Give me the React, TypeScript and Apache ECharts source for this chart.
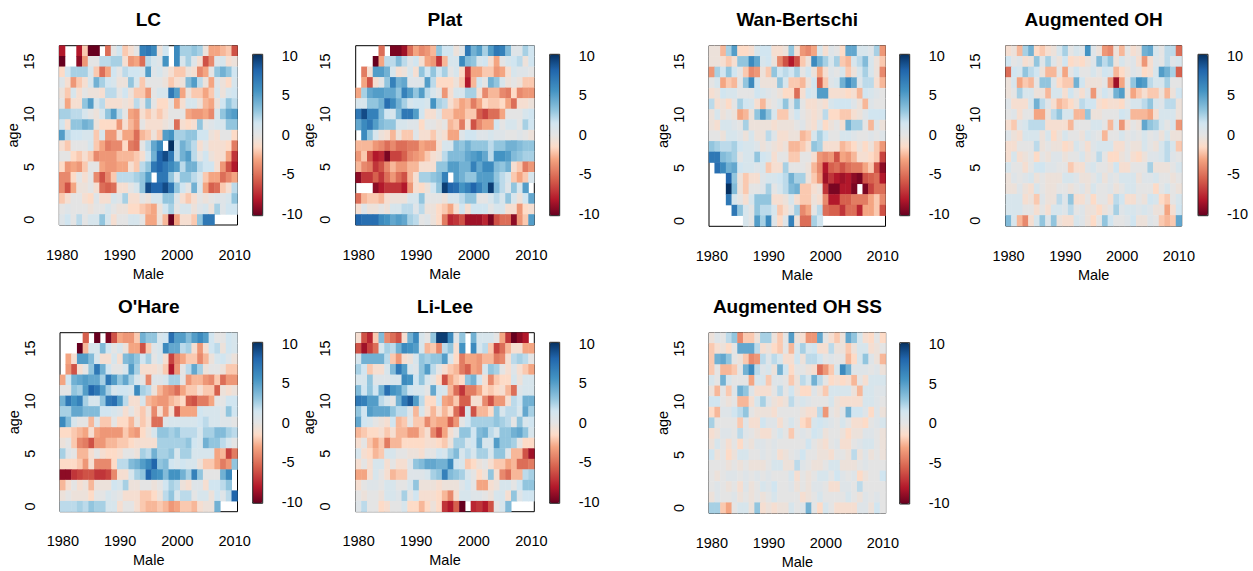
import React, { useEffect, useRef } from "react";
import * as echarts from "echarts";

const n = null;
const years = Array.from({ length: 31 }, (_, i) => String(1980 + i));
const ages = Array.from({ length: 17 }, (_, i) => String(i));
const barTicks = [-10, -5, 0, 5, 10];
const colorLevels = [-10, -8, -5.5, -3, -1.5, 0, 1.5, 3, 5.5, 8, 10];
const colorStops = ["#67001F", "#B2182B", "#D6604D", "#F4A582", "#FDDBC7", "#E4E4E4", "#D1E5F0", "#92C5DE", "#4393C3", "#2166AC", "#053061"];

// Each table lists ages 16 down to 0, columns 1980..2010.
const lcValues = [
[-8,n,n,-8,-2,-10,-10,n,-5,0,1.5,-2,-1,0,6.5,7,6,-0.5,1.5,n,6,2.5,2.5,3,2.5,-0.5,-3,-3,-2.5,-2,-6],
[-10,n,n,-9,-3.5,0,0,2,2,2.5,2.5,-1,-3.5,-3,-5,2,1,0.5,5.5,n,6,1,2.5,0.5,-1,-6,-4,0.5,1,-1,-0.5],
[-1.5,1.5,2.5,2.5,2.5,1,-2,-5,-3,1.5,0,2,1.5,1.5,1,5,0.5,1,0,-1,-2,-2,-0.5,-1,-4,-3,0,3,4,3,1.5],
[0.5,-1,-3.5,-2,-1,1,4,2.5,1.5,1,-0.5,-0.5,3,1,-2,0,0,0,-0.5,-2,-1,-0.5,3.5,5,2,-0.5,-3,0.5,-0.5,-1.5,1],
[-0.5,-2,1,-1,0,-0.5,-0.5,-1,2,2,0,1.5,-0.5,-2,-2,-3.5,0,1,1,7,5,-3,-0.5,-2,-2,-3,-2,1,-0.5,1,1.5],
[0,-3,-1,-1,3,5,1,2,-1,-1,-1,-0.5,-1,2,0,3,0,-1.5,-1.5,0,-3,-1,1,1,-0.5,-2.5,-3,-0.5,1.5,3,2],
[2.5,2.5,2,2,1,0,-0.5,1,3,5,2,0,-3,-3.5,-1,-2,-1,-2,-1,0,0,0,-3,-3.5,-3.5,-3,-4,1,3,4.5,5],
[1.5,-1,3,3,4,3.5,-0.5,-1.5,-1.5,-1.5,-3.5,-1,-2.5,-3.5,0,-1,-1,-1,-0.5,0,-5,-1,-1.5,-1,3,0,0.5,1,1,3,3],
[5,2,1.5,1.5,1,1,-2,1,-3.5,-3.5,-1,-3,-3,-5,-2.5,-2,-0.5,-2,5,5.5,2.5,2.5,3,3,1.5,1.5,-0.5,-1,0,0,-1.5],
[-1,-2,0,0,0,1,-2,-3,-4.5,-4,-4,-1.5,-4.5,-5,0,2,4.5,6,n,10,2,4,3,2,-1,0,-1,-1,-1,-1.5,-4.5],
[0,0,-1.5,-2,-1,-2,-4,-3.5,-3.5,-3.5,-2.5,-2.5,-2.5,-2,-1,1.5,4,8,9,7,2,4,5,2,0,1.5,-0.5,-1,-1,-3,-7],
[-1.5,-3.5,-3,-3.5,-2,0,0,-3,-3.5,-3.5,-3,-3,-1,-2,2,3,7,8,7,6,5,2,4,4,2,1.5,1.5,-1,-3.5,-6,-8],
[-4,-4,-1.5,0,-1,0,-4,-6,-4,-2,2,2,2,2.5,3,5,n,7,7,3,1,3,3,2,1,-2,-3,-3,-5,-4,-3],
[-4,-6,-3,-0.5,-0.5,0,-1,-5,-5.5,-5,-1,-1,0,1,3,9,8,8,9,7,3,1.5,0,4,1,-3,-5.5,-5,-2,-1,2],
[-2,-1,0,0,-1,-1.5,0.5,-1,-1,1,0.5,2.5,-1,-1,0,-0.5,1,1,3,3,0.5,-1,-2,-1,0,-0.5,0,0.5,0.5,1,3],
[0,0.5,0,0,0,-0.5,0,0,1,0,-0.5,-0.5,-1.5,-1.5,-2,-2.5,-3,-0.5,1.5,2.5,0,1,1,-0.5,0.5,1,-0.5,2.5,0.5,1.5,1.5],
[0.5,1.5,0,2,0,1,1,3,1,-1,0,0,1,1,0,-3,-3,-0.5,-2.5,-10,-3,-1,-1,-2,3,7,7,n,n,n,n],
];

const platValues = [
[n,n,n,n,-5,n,-9.5,-9.5,-8.5,-5,-3,-4,-3.5,-2.5,3,1.5,1.5,-0.5,0.5,7,4,5,2.5,5,7,6.5,3.5,0.5,0.5,2.5,1.5],
[n,n,n,-10,-3,2,2,3.5,2,0.5,1.5,-1,-3,-3.5,-7,-2.5,1,1,6,3.5,3,1,1.5,-1,-3,0,1,1.5,2,-0.5,1.5],
[n,-4.5,-1,5,5,4,1,-1,-0.5,1,-1,3,1.5,3,1.5,2.5,0,1,-1.5,-7,-3,-3,-2,-2,-3.5,-3,-1,1,0.5,0.5,0],
[n,-3,-6,-1,0,3,6.5,4,4.5,0.5,0.5,0.5,5,2,-1.5,-1.5,-1.5,-0.5,-2,-8,-2.5,1.5,0,4,3,1,-0.5,0,-0.5,-2,-2],
[-3,2.5,4.5,5,5,4.5,4.5,3,6.5,5,3,5,2,1,0,-3.5,-1,1,1,2.5,2.5,-1,-4,-2.5,-2.5,-4,-4.5,-1.5,-4,-3.5,-3.5],
[1,1,3,3,4,7.5,6,4,2.5,1,1.5,1.5,1,5.5,2.5,2,-1,-2,-3,-2.5,-4.5,-3,-1.5,-2,-2,-1.5,-3,-5,-1,-1,-0.5],
[7,9,6.5,6.5,3.5,1.5,1,3.5,7,7,5,1.5,-1,-1,0.5,-2,-2,-3,-3,-2,-2,-5.5,-6.5,-5,-5,-3,0,0,0,1,1.5],
[4.5,6,7,5,3.5,3,3,1,1,0.5,0.5,-1.5,0,0,-0.5,0,-2.5,-2,-4.5,-1,-6,-4,-3,-3,1.5,0,1,1,0,2.5,1.5],
[n,6,3,1,-0.5,-1,-2.5,-0.5,-2,-2,0.5,-1,-1,-2,-0.5,-1,-3,-3,0.5,1.5,1.5,0.5,0.5,1,0.5,0.5,0,0,0.5,0,-0.5],
[-2.5,-2.5,-2.5,-3.5,-4,-5,-4,-5,-5,-4.5,-4.5,-3,-3.5,-3.5,-1,1,1,3.5,3,4,3,3,3,2,3,3,4,4,3.5,3,3],
[-3.5,-2,-6,-8,-7.5,-9.5,-6.5,-6.5,-5.5,-4,-3.5,-3,-2,-1,-0.5,2,3.5,3.5,3.5,4.5,5,5.5,4.5,2,5.5,5.5,5,3.5,3,2.5,2.5],
[-2.5,-4,-4.5,-7,-6,-4,-2.5,-3.5,-3.5,-2.5,-2.5,-1,-1,-1,3,3,5,5,4,4,6.5,4.5,6,6,3.5,3,4,-1,-2,-4.5,-3.5],
[-9,-7,-7,-5.5,-7,-5,-3.5,-5,-6,-2.5,-1,2.5,2.5,3,3.5,6.5,n,5,4,3,3,5,5,5,3,2,1,-2,-3,-2,1],
[n,n,n,-9,-8,-7,-7,-7,-8,-3.5,-1,-1.5,-0.5,1.5,3,9.5,8,7.5,5.5,6.5,8,6.5,5,9.5,3.5,2,0.5,3,1,5,n],
[-5,-2.5,-2,-2,-2.5,-1,-0.5,-0.5,-0.5,1,1,3,0,0,0,-0.5,1,1,2,3,3,0,0,1,2,1,3,1,-0.5,1.5,4.5],
[-1,0.5,-0.5,-0.5,0,-0.5,1,1,2,2,0.5,2,-0.5,-0.5,-1.5,-2,-3,-1,1.5,-1,1.5,1.5,1.5,0,1,1,-1,-1,-3.5,-1.5,-1],
[8,7.5,7.5,7.5,6,5.5,4.5,5,4.5,2.5,2,0,0.5,-0.5,-1.5,-4.5,-7.5,-7,-6,-8.5,-8.5,-8.5,-7.5,-9.5,-6,-5,-5,-9,-3.5,-2,5],
];

const wanBertschiValues = [
[-0.5,-0.5,-2.5,2.5,5,-1.5,-1.5,-1,1,1.5,1.5,-1,-1,-0.5,3,-1,-3.5,-4,-3,1,-1,0.5,0,-1.5,4.5,4.5,1,1,0.5,2.5,-3.5],
[-0.5,-0.5,-1,-2,-1,3,3,6,4.5,1,1.5,-0.5,-4,-6,-8,-6,-2,-0.5,6,4,2.5,1,2.5,-2,-2.5,1,2,3.5,1,-0.5,-2],
[-3.5,2.5,1.5,3,1.5,0,-2,-4,-3.5,-0.5,-2,3,1.5,2,1.5,2.5,0,1.5,-0.5,-3,-1,0.5,0,1,-2,-0.5,1,2.5,1,-0.5,-4],
[0,1,-3,-2,-2.5,0,3,6,1.5,-0.5,-0.5,-0.5,3,1,-2,-2,-2.5,-0.5,1.5,-5.5,-2,0.5,1,4,6,4.5,0.5,2,2,-1,-2.5],
[-1,-0.5,1.5,1,1,0,0,0,1.5,1,0.5,0,-0.5,-1.5,-1.5,-5,-1,1.5,1,5,5,-1,-1,-1,-1.5,-1,-2.5,1.5,1,0.5,0],
[2,-1,-0.5,-1.5,0,2.5,1.5,1,-1,-2.5,-0.5,0,1,3,0.5,3,0,-1,-1,-0.5,-1,1,1.5,1.5,1.5,0.5,-0.5,-2.5,0.5,0,0],
[-0.5,1,-0.5,0,-0.5,-3,-2.5,-0.5,3,5,3,1,-2,-2,0,1.5,0,-0.5,-1,-0.5,2,-1.5,-1.5,-2,-2,-1,-0.5,0.5,1.5,1.5,1.5],
[-0.5,-1,1,1,0.5,0,2.5,-0.5,-0.5,-0.5,-0.5,-1,-0.5,-0.5,-0.5,0,0.5,-0.5,-1,0.5,-1.5,-0.5,0,-1,4,2.5,2.5,0,-2.5,0.5,-0.5],
[0,0,-0.5,1,1,0.5,-0.5,1,-0.5,-0.5,2,0.5,-1,-1,-0.5,-0.5,-2.5,-2,1,2.5,1.5,0,0,1,1,0.5,0,0,0.5,0,0.5],
[3,2.5,2,2,2.5,1.5,1,1,0.5,-0.5,0,-0.5,-1,-0.5,-2.5,-2.5,-2,-1,3,2.5,-1,-1,-1,-2.5,-2,-1.5,-0.5,-1.5,-0.5,-2,-3.5],
[7,7,3.5,3,2.5,0,1,1,3,1.5,1,-1,0,0,-2,-2,0,0,-1,-3.5,-4,-3.5,-6,-3,-3.5,-2.5,-1,-1,-1.5,-2,-6.5],
[n,7.5,6,4,4.5,1.5,1,1,0.5,1,-2,-1,-1,2.5,0,0,0,-0.5,-2.5,-4,-8,-5.5,-5,-6,-5,-4.5,-4.5,-3,-2,-6,-9],
[n,n,n,8,3,-0.5,-2,-1,-1,0.5,1,1,1.5,2,4,2.5,2.5,-0.5,-2,-3.5,-8.5,-7,-8,-8.5,-8,-9,-9.5,-6,-5.5,-5,-8],
[n,n,n,10,3.5,-0.5,-2,0,0,0.5,2.5,0,1,2,3.5,4,-2,-2,-1,-0.5,-7,-9.5,-9.5,-8,-8,-9.5,n,-9.5,-6.5,-5,-5],
[n,n,n,7,1,0,-1,1,3,3,3,-1,-1,-0.5,1,-1,-2,-2,-0.5,-1,-4,-8,-8,-5.5,-5.5,-4.5,-4.5,-4.5,-3,-2,-4],
[n,n,n,n,7,3,1,0,3,2,2,1,-2,-1,0,2.5,-4,-3,0,2,-5,-5.5,-5.5,-7,-5,-5,-7.5,-3,-3,-2,-6],
[n,n,n,n,n,n,1,0,5,2.5,6,0.5,-1.5,0.5,6.5,-0.5,-5,-5,2.5,1.5,n,n,n,n,n,n,n,n,n,n,n],
];

const augmentedOhValues = [
[-1,-0.5,-2.5,2.5,4,-1.5,-2,-1,-0.5,1,2.5,0,1,0.5,5.5,0.5,-0.5,-3.5,-4,-0.5,-2.5,0,-1,-0.5,4,4.5,1,0,2,2,-5],
[1.5,0,0.5,-1,-0.5,3,0.5,2.5,0.5,-0.5,1.5,-1.5,-1,-1.5,-0.5,0.5,3.5,2,3,-0.5,1,0,0.5,-1,-3.5,-1,0.5,0,2,0.5,1],
[-5,1.5,1,3,2,1.5,-0.5,-2.5,-2.5,0,-3,0,1.5,0,0,1,0,1.5,1,-2.5,-1.5,-0.5,0.5,0,-1.5,-1,1,5,4,2.5,-5.5],
[-0.5,1,-3,-2,-2.5,0,3,3,0.5,-1.5,-2,-2,4,1.5,-0.5,-0.5,-0.5,0,-3.5,-8.5,-3,0,3,5.5,5,2,1,1,2.5,0,0],
[-0.5,0,2.5,1,1,-0.5,-0.5,-2.5,1,1,-1,1.5,0,-1,0.5,-3.5,0,1.5,0.5,4,5,-0.5,-3,-2,-1,-2,-2,-0.5,-2.5,-0.5,1.5],
[0.5,-1,-1,-1,1,4,2,0.5,-1,-2.5,-2,-1.5,-0.5,2,1.5,1.5,-1,-1.5,-1,-1,-1.5,0,1,1,2,3,1,0.5,2,2,-0.5],
[0,0.5,-1,0,0,-3,-3,-0.5,2,3,1,1,-2.5,-2.5,3,-0.5,-0.5,0,0,0,1.5,1,-2.5,-2.5,-2.5,-3,-1,1,1,1,-0.5],
[-1,-2,0.5,1,2,2,2,-1,-1,-1,-1,-2.5,0,0,0,1,1,0,-2.5,0.5,-3.5,-1,0,-0.5,4.5,3,2.5,1,0,1,-3.5],
[0.5,-0.5,-1,1,1,1,-0.5,1,-1.5,-0.5,1,0,0,-0.5,1,0.5,0,-2.5,0,0,1,0,0.5,0,1,0,0.5,-0.5,1,-0.5,-0.5],
[-1,-1,0,0,0,2,-0.5,0,-0.5,-0.5,-1.5,-1,1,0,-1,0.5,1,1,1,-1,-1,0,-0.5,-0.5,1,0,-0.5,1,2,1,-2],
[-1,1,-1,-0.5,0,-1.5,0,-0.5,0.5,0.5,-0.5,0,0,1,-0.5,0,2,0,-1.5,-1.5,-0.5,0,-1,-1.5,-0.5,0.5,0.5,1,2,0.5,0],
[1,0,0,-1,0,1.5,1.5,0.5,0.5,0,0,-2,-1,-1,0.5,1,0,0,-0.5,1.5,-1,-1,0,0,0,2.5,-0.5,-0.5,-0.5,0,1],
[-0.5,0.5,0,0.5,1,-0.5,0,-0.5,-0.5,-0.5,1,1,0.5,-0.5,-0.5,0,1,-0.5,0.5,0,1,1,1,-0.5,0.5,0.5,1,0,0,-0.5,0],
[-0.5,-0.5,0.5,-0.5,-1,1,0,-0.5,-0.5,0,0,-0.5,0,0.5,-0.5,1,0,0,0.5,-0.5,0,1,1,0,0,0,-1.5,0,1,0,-0.5],
[1,1,1,-1,-0.5,-2,0.5,-0.5,-0.5,2,0.5,3,-1,-1,0,-1.5,0,0,-1,2,1.5,-1,-1,0,-0.5,1.5,1,-1.5,-2,0,1],
[1,1,1,0,0,-1,0,-1,1,1,0.5,2,0,0.5,-0.5,-0.5,-1.5,-0.5,0,2.5,0.5,1,1,0.5,1,0.5,-0.5,-0.5,-3,-1,1.5],
[3.5,1,-2.5,-4,-1,1,3,0.5,3,-0.5,-1,-1,1,0.5,-0.5,-1.5,0,3,1.5,0,0,0.5,1.5,-0.5,-0.5,0.5,0,-2,-2.5,-2,4.5],
];

const oHareValues = [
[n,n,n,n,-5.5,n,-10,n,-9.5,-6,-3,-3.5,-3.5,-2,4,3,3,1,1.5,7.5,5,5,3.5,5,6,5,1.5,0,0,1.5,1],
[n,n,n,-10,-2.5,1,1,3.5,1.5,0,1,-0.5,-3,-3,-6,-2,0.5,1,6,4.5,4.5,2,2.5,-1,-3.5,-1,1.5,2,-0.5,1.5,1],
[n,-3,-1,5,5,3.5,1,-1,-1,1,-1,3.5,4,3,1.5,2.5,0,1,-1,-6.5,-4,-3,-2,-2,-4,-2.5,-0.5,1,1.5,0.5,-0.5],
[n,-3.5,-6,-1,0,3,7,4,1.5,0,0,1,5,2.5,-1,-1,-1,-0.5,-2,-8,-3.5,0,2,4.5,2.5,-0.5,0,0,-0.5,-2,-2],
[-3,1.5,4,4.5,5,4.5,4.5,2.5,7,5,3,4.5,2.5,1,0,-4,0.5,0.5,1,2.5,2.5,0,-3.5,-2.5,-2.5,-3.5,-4,-2,-5,-3.5,-3.5],
[0,0,3,2.5,5,8,7,5,2.5,1,1.5,1.5,1,6,2.5,2,-0.5,-2.5,-3.5,-4,-5,-3,-2,-2,-1,-2,-2,-5.5,-0.5,-1,-0.5],
[4,7,5.5,6.5,2.5,1,1,3,7,7.5,5,2,-1,-1,1,-2.5,-3,-3.5,-3.5,-2.5,-2,-1.5,-5.5,-6,-4.5,-4.5,-3,0,0,1.5,1.5],
[2.5,2.5,4.5,4.5,3.5,3.5,3.5,1.5,1.5,1,0.5,-1,0,-1,-2,-0.5,-4,-1,-3.5,-1,-6,-3,-3,-3,1.5,1,1,1,0.5,3,1.5],
[6,3.5,1,0,0,-2.5,0.5,-2,-2,0,-1.5,-1.5,-2.5,-0.5,-2,-1,-5,-5,0.5,1,1,1,1,1,1.5,2,1,1,0.5,0.5,0],
[-1.5,-1.5,-2,-2.5,-3,-1,-3,-3.5,-3.5,-3.5,-3.5,-2,-3,-3.5,-1.5,-0.5,1,3,3,2.5,3,2,2,2,1,2.5,2.5,3.5,3.5,2.5,2],
[-0.5,0,-2,-4,-4.5,-6,-3.5,-3.5,-2.5,-2.5,-2,-2,-1.5,-1,-1,-1,-1,2.5,2.5,2.5,2.5,2.5,3,1.5,1,4,3,3,2,1,0],
[2.5,0.5,0,-2.5,-2.5,-1,0,-1,-1.5,-1.5,-1,0,0,-0.5,2.5,2,4,2.5,2.5,3,1,2.5,2.5,1,1,1,1,-3,-2.5,-6.5,-4.5],
[-1.5,-1.5,-1.5,-2,-3.5,-1,-4,-4,-4,-1.5,2,2,3.5,4,5,6,8,3,3.5,1.5,1,1.5,1,1,-0.5,-2,-2,-3,-4.5,-3.5,3],
[-9,-9,-7,-6.5,-6,-6,-7,-7,-6.5,-4,-1,-1,1,2.5,3,8,6,5.5,3.5,5.5,5.5,4,2.5,6.5,3,0,0,0,4,6,n],
[-2.5,-1,0,-1,-0.5,-2.5,-0.5,-0.5,-0.5,1.5,1,2.5,-0.5,-0.5,0,0,-0.5,0,1.5,2.5,2,-0.5,-1,0.5,0.5,-1,1.5,1.5,2,3,n],
[-0.5,0,-0.5,-0.5,-0.5,-1.5,0,0,1,0.5,0,-1,-1,-1,-2,-2,-1.5,-0.5,2,3,1,2,2,0,1,1,-0.5,1.5,0.5,2,8],
[2,2,2,2.5,2,3,2.5,2.5,1,1,-1,0,0,-1,-2,-2.5,-2.5,-2,-2.5,-3.5,-3,-2,-2,-2.5,-1,-0.5,-0.5,4,n,n,n],
];

const liLeeValues = [
[-1,-6,-7.5,-2,3.5,-4,-5,-6,-1,4,6,1,0,3,9.5,9.5,6,0.5,3,n,4,1,1,1,0,-3,-7,-10,-9,-8,n],
[-6,-8.5,-6.5,-5,1,2.5,2,4,6,5.5,5,1,-2.5,-2,-4,2,3,-1,5.5,n,6,1,2,-2,-6.5,-5,-2.5,-1,-1,-3,-3],
[1,4,4,4,4,2,-2,-3.5,-1,-0.5,1,3,2.5,3,3,5,1,-1.5,-4.5,-3,-3,-3.5,-2.5,-2.5,-4.5,-4,-1,2,2.5,2,0],
[2.5,1.5,-2,-1,-1,1,3.5,7,5,1,0.5,3,5,2,0,-1,-2,-2.5,-4.5,-5.5,-3,-3.5,1,3,2.5,0,-1,0.5,-1,-2,-3],
[1,1,3,0.5,0.5,0.5,1,1,6,5.5,1.5,3,1,0,-1.5,-6,-3,-2,-1.5,3,4,1.5,-1,-4,-2,-1.5,-1.5,1,-0.5,1,1],
[3.5,1.5,3,1.5,4,7.5,5.5,5,3,1.5,1,1,0,4.5,1.5,1,-2.5,-5,-7,-4.5,-4.5,-3,-1.5,-2,-1.5,-1,-2.5,-5,0.5,1,1],
[7,6.5,5,5,2,1,0,4,7,8.5,5,2,-1.5,-1.5,1.5,-3,-3.5,-2,-5.5,-5.5,-1,-1,-4,-6,-3.5,-3.5,-1,2,1.5,4,4],
[3,1.5,5,4.5,4.5,4.5,3,2,2,0.5,-2.5,1,-1,-2.5,-1,-2.5,-1.5,-5,-7,1,-6,-2.5,-2.5,-1.5,3,1,2,2,1,4.5,2.5],
[4.5,1.5,1,0,-0.5,-1,1.5,-2.5,-2,0,-2,-2,-4,-2.5,-3,-3,-5.5,-3.5,0,1.5,2.5,2.5,2.5,2.5,3,2.5,2,0,3,1,1.5],
[-2.5,-2,-1.5,-1.5,-1,-2,-1,-2.5,-2.5,-3.5,-3.5,-2,-1,-4,-6,-3,-1,0,3,3,1.5,3.5,4,2,1,3,3,4,4.5,3,1],
[-1,0,-2,-3,-2,-4.5,-2.5,-2.5,-1.5,-1.5,-1.5,-1.5,-1,-1,-1.5,-2,-0.5,2.5,2.5,1,1.5,4,1,1,5,3,3,2.5,0,-1.5,-1.5],
[1,-1,-1.5,-2.5,-2,1,1,0,0,-0.5,-0.5,-1,0,0,1.5,1,2.5,3.5,1,2,1,2.5,2.5,1,3,3,0.5,-2.5,-2.5,-6,-8.5],
[-1,0,-1,1,1,-1,0,-1,-1,0.5,3,3.5,4.5,4.5,4,4,6,1.5,1,-2,-1.5,-0.5,0,-1,-2,-2,-3,-2.5,-5,-5,-4.5],
[-3,-3,-1,1,0,-1,-2.5,-2,-2,0.5,0.5,0.5,1,2.5,3,6.5,3.5,3,2.5,1,0,-1.5,-0.5,3,-1,-4,-5,-2.5,-2.5,2,2.5],
[-1,0,0.5,0.5,0,1,1,0,0,1,3,-0.5,-0.5,-0.5,-1,-0.5,-0.5,-0.5,0.5,1.5,0,-3,-3,-1,-0.5,1,1,0,1.5,3,3],
[0,-0.5,0,0,-0.5,1,1,0.5,2.5,0,1.5,-1,-1,-1,-1.5,-2.5,-4,-1,1,1,0.5,0.5,0,-0.5,1,1,-1,3,0.5,1.5,1.5],
[0.5,2,0,0,-1.5,-1,0,0,1,-1.5,-1.5,-2.5,-1.5,-0.5,-1.5,-7,-8,-5.5,-10,n,-7.5,-7,-8,-6,0,1,3.5,n,n,n,n],
];

const augmentedOhSsValues = [
[-0.5,0.5,0,2,3,-4,-2,-2,-0.5,2.5,2.5,-0.5,-2,0,5,-0.5,-1,-3.5,-3.5,4.5,0,-1,-2,-0.5,4.5,3,1,-1,-1.5,0,-1.5],
[-2,-1,-0.5,-1.5,0,4.5,4.5,4.5,2,-1,-0.5,-1.5,-2,0,-2.5,1,2.5,1,1.5,-1,-1,2,-0.5,-0.5,-2,-0.5,1,1,-1,-0.5,0],
[-2,4,4.5,3,0,-0.5,-2,-4,-3.5,2,0.5,2,1,-1,-1,1.5,-0.5,2,2,1.5,0,0.5,0,0,-2.5,-1.5,1,3,0.5,-0.5,-2.5],
[-2,0,-2.5,-2.5,-2,0,4,6,2,0.5,1,-0.5,4,1.5,-1.5,0,0,-0.5,-1,-5,-3.5,-2,1,6,4,0.5,0.5,0.5,0,0.5,-0.5],
[1,0,4,1,0,0,0,-3,1,1,-2,0.5,0.5,0,-2,-0.5,2,1,4,2,0,-1.5,-1,-1.5,-1,-2.5,0,-1,1,1,1],
[-0.5,-2.5,0,-2,0.5,4,3,0.5,-1,-1,-1,0,2,0,1.5,-0.5,-1.5,-1.5,0.5,-0.5,-2,1,1,1,1,-0.5,-2.5,1,1,0.5,0.5],
[1.5,1.5,0,-0.5,0,-2.5,-2.5,-1,1,2.5,0.5,-0.5,-1,-0.5,2,0.5,1,0.5,0,0,0,1,-0.5,-1,-1,-1,-1,1,1,0.5,0],
[-1.5,-2.5,0.5,0.5,1.5,2,3,0,-0.5,-0.5,-0.5,-1,0,0,0,0,-0.5,-1,-1,2,-3.5,0,-0.5,0.5,4,1.5,1.5,0.5,-1.5,0.5,-0.5],
[2.5,0,0,0,0,-2,0.5,-1,-1,1.5,0.5,0.5,-1,0,1,0,-1.5,-2,1,1.5,1,0.5,0,1,0,-1,-1,-1.5,0,0.5,1],
[-1,-0.5,0.5,0.5,0,2,0.5,0,-0.5,-1,-1,0,1,0,-2,0,0.5,0,1.5,1,-0.5,0,0,-0.5,-1.5,-0.5,-0.5,0.5,0.5,0,-0.5],
[-0.5,1,0,-1,0,-1.5,0,-0.5,0.5,0.5,0,0.5,0,0,0,0,0,1.5,0,-0.5,-1,0,0.5,-1,-1,0,0.5,1,1,0,-0.5],
[1.5,-0.5,0,-1.5,-0.5,1,1,0,0,0.5,0,0.5,-1,-0.5,0,0.5,1.5,0,0,-0.5,-0.5,-1,0,0,-0.5,2,-0.5,0.5,-0.5,0,-0.5],
[0,0,0,-0.5,0,-0.5,0,-0.5,-0.5,-0.5,0,1,1,-0.5,-0.5,2,0.5,0,-0.5,-0.5,0,1,1,-0.5,-0.5,-0.5,0,0.5,0,0,0],
[0,-0.5,0,0.5,0.5,0,0.5,0,0.5,0,0.5,0,0,0,1,-1,0,-0.5,0,1,1,0,1.5,0.5,0,0.5,-1.5,-0.5,0,0,1.5],
[0,0.5,0,-0.5,0,-1,0.5,-0.5,0,1,0.5,1.5,0,0,0.5,-0.5,0,-0.5,0.5,0.5,0,-1,-1,0.5,0.5,0,2,0,0,0,0],
[-0.5,0.5,0,0,0.5,-0.5,0,-0.5,0,-0.5,0,1,0,0,0,0,-1,-0.5,0,1,0,0,0,0,1,0,-0.5,0.5,0,0.5,0],
[2.5,2.5,-2,-3,0,1,1,-0.5,3,-1,-0.5,-1,-0.5,-0.5,1,0,0.5,4,0,-1.5,1,0,-1,-1,-1,-1,0.5,0.5,-0.5,1.5,0],
];

const panels = [
  { title: "LC", rows: lcValues, box: [59.3, 45.7, 237.5, 225], bar: [252.7, 54.3, 215.7], tick: [55.7, 214] },
  { title: "Plat", rows: platValues, box: [355.7, 45.7, 534.3, 225], bar: [549.7, 54.3, 215.7], tick: [55.7, 214] },
  { title: "Wan-Bertschi", rows: wanBertschiValues, box: [709, 45.7, 885.5, 226.3], bar: [899.7, 54.3, 215.7], tick: [55.7, 214] },
  { title: "Augmented OH", rows: augmentedOhValues, box: [1005.7, 45.7, 1181.7, 226], bar: [1198, 54.3, 215.7], tick: [55.7, 214] },
  { title: "O'Hare", rows: oHareValues, box: [60, 332.7, 237.5, 511.7], bar: [252.7, 342.3, 503.3], tick: [343.7, 502] },
  { title: "Li-Lee", rows: liLeeValues, box: [355.7, 332.7, 534.3, 511.7], bar: [549.7, 342.3, 503.3], tick: [343.7, 502] },
  { title: "Augmented OH SS", rows: augmentedOhSsValues, box: [709, 332.7, 885.7, 513.3], bar: [899.7, 342.7, 504], tick: [344, 502.5] },
];

const FONT = "Liberation Sans";
const INK = "#000";

function cells(rows: (number | null)[][]) {
  const out: number[][] = [];
  rows.forEach((row, r) => {
    row.forEach((v, c) => {
      if (v !== null) out.push([c, 16 - r, v]);
    });
  });
  return out;
}

// The colour scale has uneven stops, so it is sampled evenly for the visualMap.
function samplePalette() {
  const out: string[] = [];
  const toRgb = (h: string) => [1, 3, 5].map((k) => parseInt(h.slice(k, k + 2), 16));
  for (let s = 0; s <= 80; s++) {
    const v = -10 + s * 0.25;
    let k = 0;
    while (k < colorLevels.length - 2 && v > colorLevels[k + 1]) k++;
    const f = (v - colorLevels[k]) / (colorLevels[k + 1] - colorLevels[k]);
    const a = toRgb(colorStops[k]);
    const b = toRgb(colorStops[k + 1]);
    const c = a.map((x, j) => Math.round(x + (b[j] - x) * f));
    out.push(`rgb(${c[0]},${c[1]},${c[2]})`);
  }
  return out;
}

function buildOption() {
  const grid: any[] = [];
  const xAxis: any[] = [];
  const yAxis: any[] = [];
  const series: any[] = [];
  const visualMap: any[] = [];
  const title: any[] = [];
  const graphic: any[] = [];
  const palette = samplePalette();

  panels.forEach((p, i) => {
    const [l, t, r, b] = p.box;
    grid.push({ left: l, top: t, width: r - l, height: b - t, show: true, backgroundColor: "transparent", borderColor: INK, borderWidth: 1 });
    xAxis.push({
      gridIndex: i * 2, type: "category", data: years, position: "bottom", name: "Male", nameLocation: "middle", nameGap: 41,
      nameTextStyle: { fontFamily: FONT, fontSize: 14.5, color: INK },
      axisLine: { show: false },
      axisTick: { alignWithLabel: true, length: 10, interval: (k: number) => k % 5 === 0, lineStyle: { color: INK, width: 1 } },
      axisLabel: { interval: (k: number) => k % 10 === 0, margin: 22, fontFamily: FONT, fontSize: 14.5, color: INK },
      splitLine: { show: false },
    });
    yAxis.push({
      gridIndex: i * 2, type: "category", data: ages, position: "left", name: "age", nameLocation: "middle", nameGap: 38,
      nameTextStyle: { fontFamily: FONT, fontSize: 14.5, color: INK },
      axisLine: { show: false },
      axisTick: { alignWithLabel: true, length: 9, interval: (k: number) => k % 5 === 0, lineStyle: { color: INK, width: 1 } },
      axisLabel: { interval: (k: number) => k % 5 === 0, rotate: 90, margin: 23, fontFamily: FONT, fontSize: 14.5, color: INK },
      splitLine: { show: false },
    });
    grid.push({ left: p.bar[0], top: p.tick[0], width: 10, height: p.tick[1] - p.tick[0] });
    xAxis.push({ gridIndex: i * 2 + 1, type: "value", show: false, min: 0, max: 1 });
    yAxis.push({
      gridIndex: i * 2 + 1, type: "value", position: "right", min: barTicks[0], max: barTicks[barTicks.length - 1], interval: 5,
      axisLine: { show: false },
      axisTick: { show: true, length: 9, lineStyle: { color: INK, width: 1 } },
      axisLabel: { margin: 19, fontFamily: FONT, fontSize: 14.5, color: INK },
      splitLine: { show: false },
    });
    series.push({
      type: "heatmap", name: p.title, xAxisIndex: i * 2, yAxisIndex: i * 2, data: cells(p.rows), itemStyle: { borderWidth: 0 }, emphasis: { disabled: true },
    });
    visualMap.push({
      type: "continuous", seriesIndex: i, min: barTicks[0], max: barTicks[barTicks.length - 1], show: true, calculable: false, hoverLink: false,
      left: p.bar[0], top: p.bar[1], itemWidth: 10, itemHeight: p.bar[2] - p.bar[1], padding: 0, text: null, showLabel: false,
      inRange: { color: palette },
    });
    title.push({
      text: p.title, left: (l + r) / 2, top: t - 36, textAlign: "center", padding: 0,
      textStyle: { fontFamily: FONT, fontWeight: "bold", fontSize: 19, color: INK },
    });
    graphic.push({
      type: "rect", z: 100, silent: true,
      shape: { x: p.bar[0], y: p.bar[1], width: 10, height: p.bar[2] - p.bar[1] },
      style: { fill: "none", stroke: "#222", lineWidth: 1 },
    });
  });
  return { animation: false, backgroundColor: "#fff", grid, xAxis, yAxis, series, visualMap, title, graphic };
}

export default function App() {
  const ref = useRef<HTMLDivElement>(null);
  useEffect(() => {
    document.body.style.margin = "0";
    const chart = echarts.init(ref.current!, undefined, { renderer: "svg" });
    chart.setOption(buildOption() as any);
    return () => chart.dispose();
  }, []);
  return <div ref={ref} style={{ width: 1253, height: 571 }} />;
}
